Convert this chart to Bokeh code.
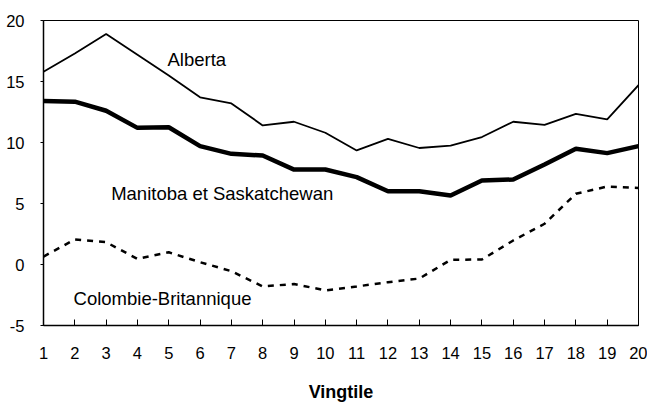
from bokeh.plotting import figure
from bokeh.models import Range1d, FixedTicker, Label, PrintfTickFormatter
from bokeh.embed import file_html
from bokeh.resources import INLINE

vingtiles = list(range(1, 21))
alberta = [15.8, 17.3, 18.9, 17.2, 15.5, 13.7, 13.2, 11.4, 11.7, 10.8,
           9.35, 10.3, 9.55, 9.75, 10.45, 11.7, 11.45, 12.35, 11.9, 14.7]
manitoba_sask = [13.4, 13.35, 12.6, 11.2, 11.25, 9.7, 9.07, 8.93, 7.78, 7.79,
                 7.16, 6.0, 6.0, 5.66, 6.89, 6.97, 8.2, 9.48, 9.13, 9.7]
colombie_brit = [0.65, 2.05, 1.83, 0.46, 1.0, 0.19, -0.55, -1.8, -1.6, -2.12,
                 -1.8, -1.45, -1.15, 0.38, 0.41, 1.97, 3.34, 5.8, 6.39, 6.28]
y_ticks = [-5, 0, 5, 10, 15, 20]

FONT = "Liberation Sans"

p = figure(width=647, height=405, output_backend="svg", toolbar_location=None,
           x_range=Range1d(1, 20), y_range=Range1d(-5, 20),
           min_border_left=43, min_border_right=9, min_border_top=20, min_border_bottom=80)
p.grid.visible = False
p.outline_line_color = "black"
p.outline_line_width = 1
p.background_fill_color = "white"
p.border_fill_color = "white"

p.xaxis.ticker = FixedTicker(ticks=vingtiles)
p.yaxis.ticker = FixedTicker(ticks=y_ticks)
p.yaxis.formatter = PrintfTickFormatter(format="%d")
for ax in (p.xaxis[0], p.yaxis[0]):
    ax.axis_line_color = "black"
    ax.axis_line_width = 1.5
    ax.major_tick_line_color = "black"
    ax.minor_tick_line_color = None
    ax.major_label_text_font = FONT
    ax.major_label_text_font_size = "16.5px"
    ax.major_label_text_color = "black"
p.xaxis.major_tick_in = 6
p.xaxis.major_tick_out = 0
p.xaxis.major_label_standoff = 21
p.yaxis.major_tick_in = 0
p.yaxis.major_tick_out = 3
p.yaxis.major_label_standoff = 16

p.xaxis.axis_label = "Vingtile"
p.xaxis.axis_label_text_font = FONT
p.xaxis.axis_label_text_font_style = "bold"
p.xaxis.axis_label_text_font_size = "18px"
p.xaxis.axis_label_text_color = "black"
p.xaxis.axis_label_standoff = 20

p.line(vingtiles, alberta, line_color="black", line_width=1.8)
p.line(vingtiles, manitoba_sask, line_color="black", line_width=4.5)
p.line(vingtiles, colombie_brit, line_color="black", line_width=2.5, line_dash="6 6")

for txt, x, y in [("Alberta", 4.96, 16.8),
                  ("Manitoba et Saskatchewan", 3.16, 5.8),
                  ("Colombie-Britannique", 1.96, -2.8)]:
    p.add_layout(Label(x=x, y=y, text=txt, text_font=FONT, text_font_size="18.5px",
                       text_color="black", text_baseline="middle", text_align="left"))

open("out.html", "w").write(file_html(p, INLINE))
